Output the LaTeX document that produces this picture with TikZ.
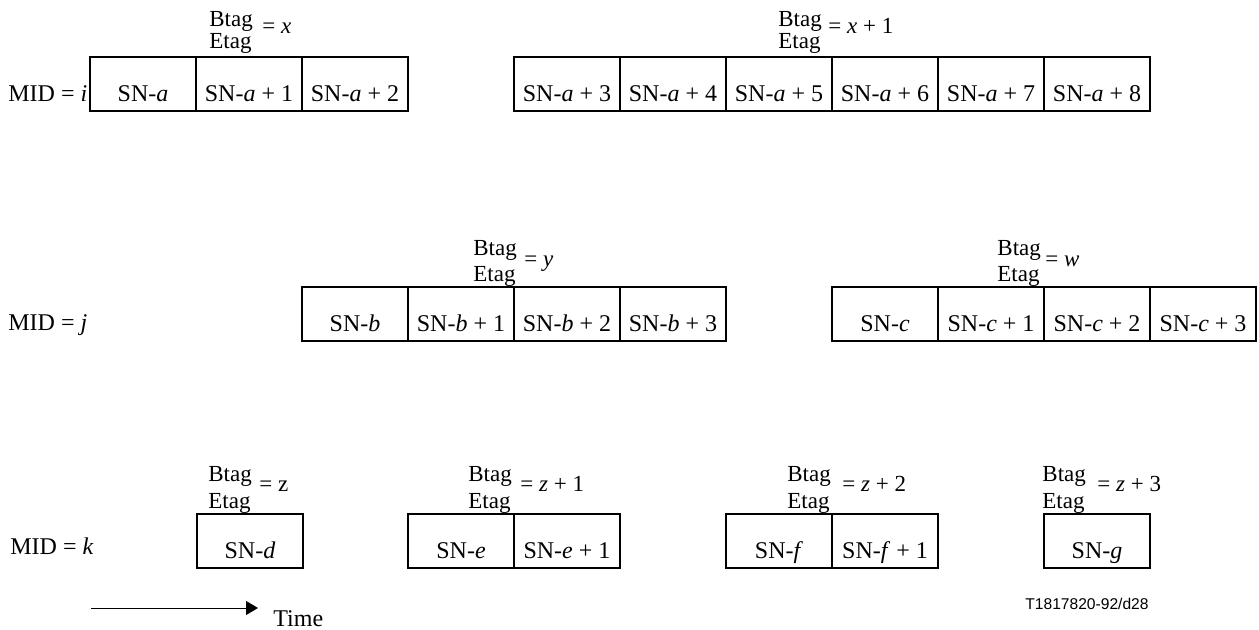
\documentclass[tikz,border=0pt]{standalone}
\usepackage{fontspec}
\setmainfont{Liberation Serif}
\newfontfamily\numfont{Liberation Sans}
\usetikzlibrary{positioning,arrows.meta}

\begin{document}
\begin{tikzpicture}
  [x=0.5pt, y=-0.5pt,
    >={Triangle[length=6pt,width=7pt]},
    cell/.style={
      rectangle,
      draw=black, line width=1pt,
      inner sep=0pt, outer sep=0pt,
      minimum width=53pt,
      text height=22.5pt, text depth=4.5pt,
      font=\fontsize{12}{14}\selectfont
    },
    mid/.style={anchor=base west, inner sep=0pt, font=\fontsize{12}{14}\selectfont},
    tag/.style={anchor=base west, inner sep=0pt, font=\fontsize{11.5}{13}\selectfont},
    line/.style={draw, line width=0.5pt, ->}
  ]
  \useasboundingbox (0,0) rectangle (1259,630);

  % MID = i
  \node[mid] (midi) at (8,102) {MID = \textit{i}};
  \node[cell, anchor=north west] (sna) at (90,57) {SN-\textit{a}};
  \node[cell, right=0pt of sna] (sna1) {SN-\textit{a} + 1};
  \node[cell, right=0pt of sna1] (sna2) {SN-\textit{a} + 2};
  \node[tag] (btagx) at (209,27) {Btag};
  \node[tag] (etagx) at (209,49) {Etag};
  \node[tag] (valx) at (262,34) {= \textit{x}};

  \node[cell, anchor=north west] (sna3) at (514,57) {SN-\textit{a} + 3};
  \node[cell, right=0pt of sna3] (sna4) {SN-\textit{a} + 4};
  \node[cell, right=0pt of sna4] (sna5) {SN-\textit{a} + 5};
  \node[cell, right=0pt of sna5] (sna6) {SN-\textit{a} + 6};
  \node[cell, right=0pt of sna6] (sna7) {SN-\textit{a} + 7};
  \node[cell, right=0pt of sna7] (sna8) {SN-\textit{a} + 8};
  \node[tag] (btagx1) at (778,27) {Btag};
  \node[tag] (etagx1) at (778,49) {Etag};
  \node[tag] (valx1) at (828,34) {= \textit{x} + 1};

  % MID = j
  \node[mid] (midj) at (8,331) {MID = \textit{j}};
  \node[cell, anchor=north west] (snb) at (302,287) {SN-\textit{b}};
  \node[cell, right=0pt of snb] (snb1) {SN-\textit{b} + 1};
  \node[cell, right=0pt of snb1] (snb2) {SN-\textit{b} + 2};
  \node[cell, right=0pt of snb2] (snb3) {SN-\textit{b} + 3};
  \node[tag] (btagy) at (473,256) {Btag};
  \node[tag] (etagy) at (473,282) {Etag};
  \node[tag] (valy) at (524,267) {= \textit{y}};

  \node[cell, anchor=north west] (snc) at (832,287) {SN-\textit{c}};
  \node[cell, right=0pt of snc] (snc1) {SN-\textit{c} + 1};
  \node[cell, right=0pt of snc1] (snc2) {SN-\textit{c} + 2};
  \node[cell, right=0pt of snc2] (snc3) {SN-\textit{c} + 3};
  \node[tag] (btagw) at (997,256) {Btag};
  \node[tag] (etagw) at (997,282) {Etag};
  \node[tag] (valw) at (1045,267) {= \textit{w}};

  % MID = k
  \node[mid] (midk) at (10,554) {MID = \textit{k}};
  \node[cell, anchor=north west] (snd) at (197,514) {SN-\textit{d}};
  \node[tag] (btagz) at (208,482) {Btag};
  \node[tag] (etagz) at (208,509) {Etag};
  \node[tag] (valz) at (259,492) {= z};

  \node[cell, anchor=north west] (sne) at (408,514) {SN-\textit{e}};
  \node[cell, right=0pt of sne] (sne1) {SN-\textit{e} + 1};
  \node[tag] (btagz1) at (468,482) {Btag};
  \node[tag] (etagz1) at (468,509) {Etag};
  \node[tag] (valz1) at (520,492) {= \textit{z} + 1};

  \node[cell, anchor=north west] (snf) at (726,514) {SN-\textit{f}};
  \node[cell, right=0pt of snf] (snf1) {SN-\textit{f} + 1};
  \node[tag] (btagz2) at (787,482) {Btag};
  \node[tag] (etagz2) at (787,509) {Etag};
  \node[tag] (valz2) at (842,492) {= \textit{z} + 2};

  \node[cell, anchor=north west] (sng) at (1044,514) {SN-\textit{g}};
  \node[tag] (btagz3) at (1042,482) {Btag};
  \node[tag] (etagz3) at (1042,509) {Etag};
  \node[tag] (valz3) at (1097,492) {= \textit{z} + 3};

  % time axis
  \coordinate (tstart) at (91,608);
  \coordinate (tend) at (258,608);
  \draw[line] (tstart) -- (tend);
  \node[mid] (time) at (273,626) {Time};

  \node[anchor=base west, inner sep=0pt, font=\numfont\fontsize{7.8}{9}\selectfont] (figno) at (1025,610) {T1817820-92/d28};
\end{tikzpicture}
\end{document}
